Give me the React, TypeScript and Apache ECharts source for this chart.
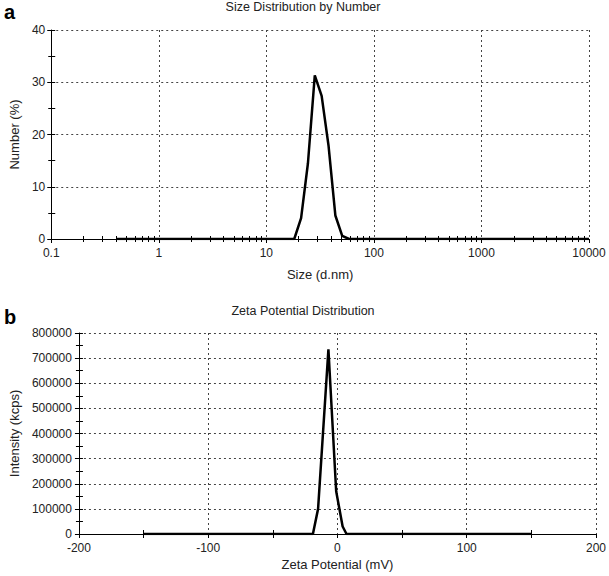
import React, { useEffect, useRef } from 'react';
import * as echarts from 'echarts';

// ---- Panel a: Size Distribution by Number ----
const sizeNm = [0.4, 18.17, 21.04, 24.36, 28.21, 32.67, 37.84, 43.82, 50.75, 58.77, 10000];
const numberPct = [0, 0, 4.0, 14.5, 31.3, 27.4, 17.9, 4.5, 0.6, 0, 0];
const sizeMinorTicks = [
  0.2, 0.3, 0.4, 0.5, 0.6, 0.7, 0.8, 0.9,
  2, 3, 4, 5, 6, 7, 8, 9,
  20, 30, 40, 50, 60, 70, 80, 90,
  200, 300, 400, 500, 600, 700, 800, 900,
  2000, 3000, 4000, 5000, 6000, 7000, 8000, 9000,
];

// ---- Panel b: Zeta Potential Distribution ----
const zetaMv = [-150, -19, -15, -7, -1, 4, 7, 150];
const intensityKcps = [0, 0, 100000, 735000, 170000, 30000, 0, 0];
const zetaMinorTicks = [-150, -50, 50, 150];

const FONT = 'Liberation Sans, Arial, sans-serif';

export default function App() {
  const ref = useRef<HTMLDivElement>(null);

  useEffect(() => {
    if (!ref.current) return;
    const chart = echarts.init(ref.current, null, { renderer: 'svg' });

    const fmt = (v: number) => String(parseFloat(Number(v).toPrecision(6)));
    const gridLine = { show: true, lineStyle: { type: [2, 3] as any, color: '#444', width: 1 } };
    const axisLine = { show: true, onZero: false, lineStyle: { color: '#000', width: 1 } };
    const hiddenLine = { show: false, onZero: false };
    const labelStyle = { color: '#222', fontSize: 12, fontFamily: FONT, formatter: fmt };
    const nameStyle = { color: '#222', fontSize: 13, fontFamily: FONT };

    const xy = (xs: number[], ys: number[]) => xs.map((x, i) => [x, ys[i]]);

    chart.setOption({
      animation: false,
      textStyle: { fontFamily: FONT },
      grid: [
        { left: 45, top: 30, width: 544, height: 209 },
        { left: 71, top: 333, width: 526, height: 201 },
      ],
      xAxis: [
        {
          type: 'log', gridIndex: 0, logBase: 10, min: 0.1, max: 10000, position: 'bottom',
          axisLine, splitLine: gridLine,
          axisTick: { show: true, length: 4, lineStyle: { color: '#000' } },
          axisLabel: { ...labelStyle, margin: 8 },
          name: 'Size (d.nm)', nameLocation: 'middle', nameGap: 29, nameTextStyle: nameStyle,
        },
        {
          type: 'log', gridIndex: 0, logBase: 10, min: 0.1, max: 10000, position: 'bottom', offset: 3,
          axisLine: hiddenLine, splitLine: { show: false }, axisLabel: { show: false },
          axisTick: { show: true, inside: true, length: 6, customValues: sizeMinorTicks, lineStyle: { color: '#000' } },
        },
        {
          type: 'value', gridIndex: 1, min: -200, max: 200, interval: 100, position: 'bottom',
          axisLine, splitLine: gridLine,
          axisTick: { show: true, length: 4, lineStyle: { color: '#000' } },
          axisLabel: { ...labelStyle, margin: 8 },
          name: 'Zeta Potential (mV)', nameLocation: 'middle', nameGap: 24, nameTextStyle: nameStyle,
        },
        {
          type: 'value', gridIndex: 1, min: -200, max: 200, position: 'bottom', offset: 4,
          axisLine: hiddenLine, splitLine: { show: false }, axisLabel: { show: false },
          axisTick: { show: true, inside: true, length: 8, customValues: zetaMinorTicks, lineStyle: { color: '#000' } },
        },
      ],
      yAxis: [
        {
          type: 'value', gridIndex: 0, min: 0, max: 40, interval: 10, position: 'left',
          axisLine, splitLine: gridLine,
          axisTick: { show: true, length: 4, lineStyle: { color: '#000' } },
          axisLabel: { ...labelStyle, margin: 6 },
          name: 'Number (%)', nameLocation: 'middle', nameGap: 29, nameTextStyle: nameStyle,
        },
        {
          type: 'value', gridIndex: 0, min: 0, max: 40, interval: 5, position: 'left', offset: 3,
          axisLine: hiddenLine, splitLine: { show: false }, axisLabel: { show: false },
          axisTick: { show: true, inside: true, length: 7, lineStyle: { color: '#000' } },
        },
        {
          type: 'value', gridIndex: 1, min: 0, max: 800000, interval: 100000, position: 'left',
          axisLine, splitLine: gridLine,
          axisTick: { show: true, length: 4, lineStyle: { color: '#000' } },
          axisLabel: { ...labelStyle, margin: 7 },
          name: 'Intensity (kcps)', nameLocation: 'middle', nameGap: 55, nameTextStyle: nameStyle,
        },
        {
          type: 'value', gridIndex: 1, min: 0, max: 800000, interval: 50000, position: 'left', offset: 3,
          axisLine: hiddenLine, splitLine: { show: false }, axisLabel: { show: false },
          axisTick: { show: true, inside: true, length: 7, lineStyle: { color: '#000' } },
        },
      ],
      series: [
        {
          type: 'line', xAxisIndex: 0, yAxisIndex: 0,
          data: xy(sizeNm, numberPct), symbol: 'none',
          lineStyle: { color: '#000', width: 2.5 }, z: 5,
        },
        {
          type: 'line', xAxisIndex: 2, yAxisIndex: 2,
          data: xy(zetaMv, intensityKcps), symbol: 'none',
          lineStyle: { color: '#000', width: 2.5 }, z: 5,
        },
      ],
      graphic: [
        { type: 'text', x: 4, y: 12, style: { text: 'a', font: `bold 20px ${FONT}`, fill: '#000', textVerticalAlign: 'middle' } },
        { type: 'text', x: 4, y: 317, style: { text: 'b', font: `bold 20px ${FONT}`, fill: '#000', textVerticalAlign: 'middle' } },
        { type: 'text', x: 303, y: 7, style: { text: 'Size Distribution by Number', font: `12.5px ${FONT}`, fill: '#222', textAlign: 'center', textVerticalAlign: 'middle' } },
        { type: 'text', x: 303, y: 311, style: { text: 'Zeta Potential Distribution', font: `12.5px ${FONT}`, fill: '#222', textAlign: 'center', textVerticalAlign: 'middle' } },
      ],
    });

    return () => chart.dispose();
  }, []);

  return (
    <div
      ref={ref}
      style={{ position: 'fixed', left: 0, top: 0, width: 609, height: 576, background: '#fff' }}
    />
  );
}
